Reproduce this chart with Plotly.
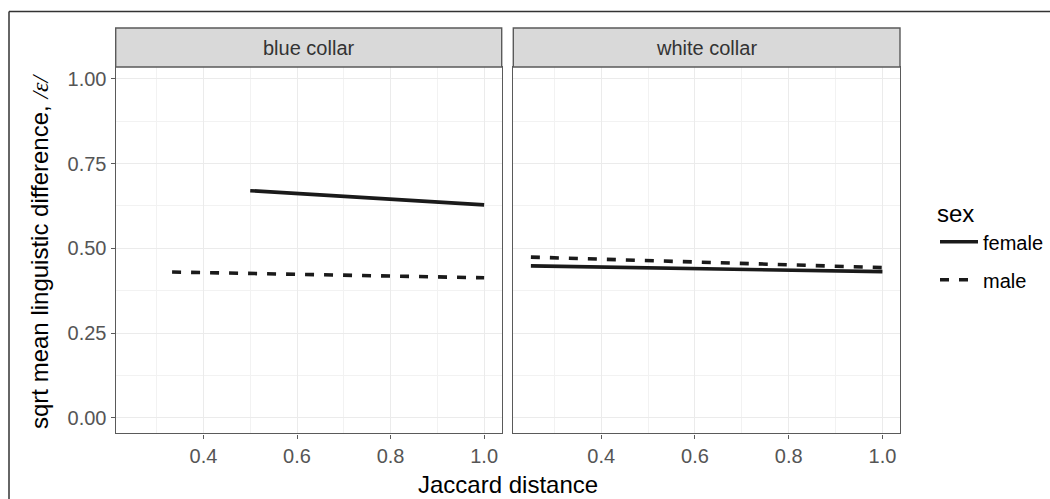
import plotly.graph_objects as go

# ---- data ----
panels = ["blue collar", "white collar"]
sexes = ["female", "male"]

bc_female_x = [0.50, 1.00]
bc_female_y = [0.670, 0.628]
bc_male_x = [0.333, 1.00]
bc_male_y = [0.430, 0.413]

wc_female_x = [0.25, 1.00]
wc_female_y = [0.448, 0.431]
wc_male_x = [0.25, 1.00]
wc_male_y = [0.474, 0.443]

y_ticks = [0.00, 0.25, 0.50, 0.75, 1.00]
x_ticks = [0.4, 0.6, 0.8, 1.0]

W, H = 1050, 499
LINE_COL = "#1a1a1a"
DASH = "9px,10px"
FONT = "Liberation Sans, Arial, sans-serif"

def px_x(p):
    return p / W

def px_y(p):
    return 1 - p / H

fig = go.Figure()

series = [
    ("x", "y", bc_female_x, bc_female_y, "female", "solid", True),
    ("x", "y", bc_male_x, bc_male_y, "male", DASH, True),
    ("x2", "y2", wc_female_x, wc_female_y, "female", "solid", False),
    ("x2", "y2", wc_male_x, wc_male_y, "male", DASH, False),
]
for xa, ya, xs, ys, name, dash, show in series:
    fig.add_trace(go.Scatter(
        x=xs, y=ys, xaxis=xa, yaxis=ya, mode="lines", name=name,
        legendgroup=name, showlegend=show,
        line=dict(color=LINE_COL, width=3.6, dash=dash),
    ))

panel_x = [(115.7, 501.7), (513.3, 900.0)]
plot_top, plot_bot = 67.0, 433.3
strip_top = 28.0

axis_common = dict(
    showline=True, mirror=True, linecolor="#5a5a5a", linewidth=1.4,
    showgrid=True, gridcolor="#ebebeb", gridwidth=1.1,
    zeroline=False, ticks="outside", ticklen=4, tickcolor="#5a5a5a", tickwidth=1.2,
    tickfont=dict(family=FONT, size=20, color="#555555"),
)

xrange = [0.2125, 1.0375]
yrange = [-0.046, 1.035]

for i, (xa, ya) in enumerate([("xaxis", "yaxis"), ("xaxis2", "yaxis2")]):
    x0, x1 = panel_x[i]
    fig.layout[xa] = dict(
        axis_common,
        domain=[px_x(x0), px_x(x1)], range=xrange,
        tickmode="array", tickvals=x_ticks, ticktext=[f"{v:.1f}" for v in x_ticks],
        minor=dict(dtick=0.1, tick0=0.3, showgrid=True, gridcolor="#f2f2f2", gridwidth=0.7, ticklen=0),
        anchor="y" if i == 0 else "y2",
    )
    fig.layout[ya] = dict(
        axis_common,
        domain=[px_y(plot_bot), px_y(plot_top)], range=yrange,
        tickmode="array", tickvals=y_ticks, ticktext=[f"{v:.2f}" for v in y_ticks],
        minor=dict(dtick=0.125, tick0=0.125, showgrid=True, gridcolor="#f2f2f2", gridwidth=0.7, ticklen=0),
        anchor="x" if i == 0 else "x2",
        showticklabels=(i == 0),
        ticks="outside" if i == 0 else "",
        matches="y" if i == 1 else None,
    )

shapes = []
annotations = []
for i, name in enumerate(panels):
    x0, x1 = panel_x[i]
    shapes.append(dict(
        type="rect", xref="paper", yref="paper",
        x0=px_x(x0), x1=px_x(x1), y0=px_y(plot_top), y1=px_y(strip_top),
        fillcolor="#d9d9d9", line=dict(color="#5a5a5a", width=1.4), layer="above",
    ))
    annotations.append(dict(
        text=name, xref="paper", yref="paper",
        x=px_x((x0 + x1) / 2), y=px_y((strip_top + plot_top) / 2),
        xanchor="center", yanchor="middle", showarrow=False,
        font=dict(family=FONT, size=20, color="#333333"),
    ))

# outer frame (top and left edges visible)
shapes.append(dict(type="line", xref="paper", yref="paper",
                   x0=px_x(9), x1=1.0, y0=px_y(11.5), y1=px_y(11.5),
                   line=dict(color="#333333", width=1.5)))
shapes.append(dict(type="line", xref="paper", yref="paper",
                   x0=px_x(9), x1=px_x(9), y0=px_y(11.5), y1=0.0,
                   line=dict(color="#333333", width=1.5)))

annotations.append(dict(
    text="sqrt mean linguistic difference, <span style=\"font-family:'Liberation Serif', serif\"><i>/ε/</i></span>",
    xref="paper", yref="paper", x=px_x(40), y=px_y(251),
    xanchor="center", yanchor="middle", textangle=-90, showarrow=False,
    font=dict(family=FONT, size=24, color="#000000"),
))
annotations.append(dict(
    text="Jaccard distance", xref="paper", yref="paper",
    x=px_x(507.9), y=px_y(484), xanchor="center", yanchor="middle", showarrow=False,
    font=dict(family=FONT, size=24, color="#000000"),
))

fig.update_layout(
    width=W, height=H,
    margin=dict(l=0, r=0, t=0, b=0),
    paper_bgcolor="white", plot_bgcolor="white",
    shapes=shapes, annotations=annotations,
    showlegend=True,
    legend=dict(
        title=dict(text="sex", font=dict(family=FONT, size=24, color="#000000")),
        font=dict(family=FONT, size=20, color="#000000"),
        x=px_x(935), y=px_y(191), xanchor="left", yanchor="top",
        traceorder="grouped", tracegroupgap=9, itemwidth=38,
        bgcolor="rgba(0,0,0,0)", borderwidth=0,
    ),
)

fig.write_html(
    "out.html",
    config={"displayModeBar": False},
    post_script="document.body.style.margin='0';document.body.style.overflow='hidden';",
)
